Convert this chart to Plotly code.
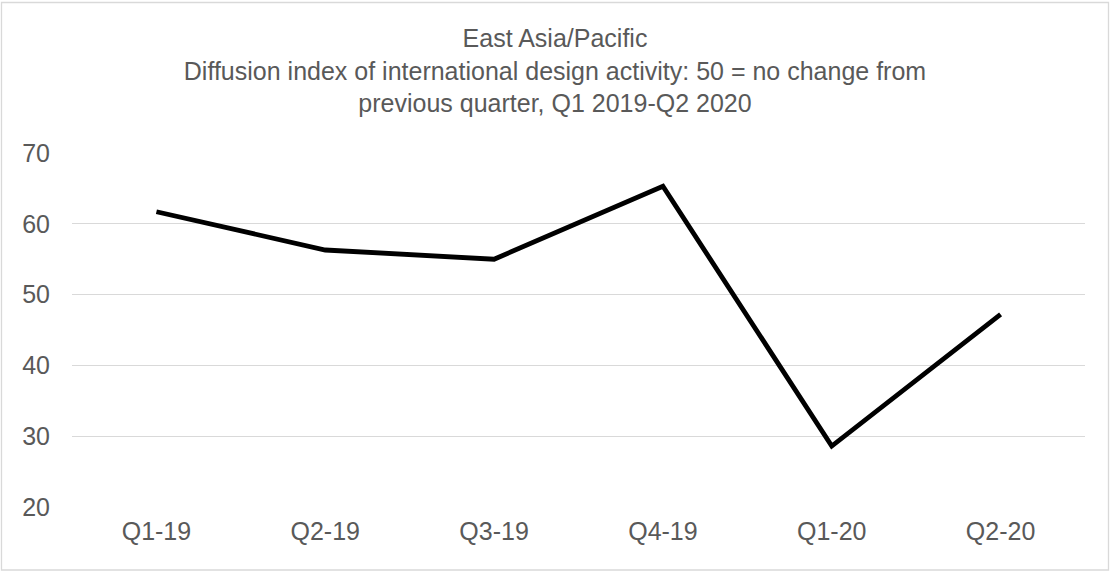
import plotly.graph_objects as go

categories = ["Q1-19", "Q2-19", "Q3-19", "Q4-19", "Q1-20", "Q2-20"]
diffusion_index = [61.7, 56.3, 55.0, 65.3, 28.6, 47.2]
y_ticks = [20, 30, 40, 50, 60, 70]

title_lines = [
    "East Asia/Pacific",
    "Diffusion index of international design activity: 50 = no change from",
    "previous quarter, Q1 2019-Q2 2020",
]

W, H = 1110, 574
ML, MR, MT, MB = 72, 25, 153, 67
pw, ph = W - ML - MR, H - MT - MB

def px_to_paper_x(px):
    return (px - ML) / pw

def px_to_paper_y(py):
    return (H - MB - py) / ph

fig = go.Figure()
fig.add_trace(go.Scatter(
    x=categories, y=diffusion_index, mode="lines",
    line=dict(color="#000000", width=4.8),
    hoverinfo="x+y", showlegend=False,
))

fig.update_layout(
    width=W, height=H,
    margin=dict(l=ML, r=MR, t=MT, b=MB),
    paper_bgcolor="white", plot_bgcolor="white",
    font=dict(family="Liberation Sans, Arial, sans-serif", color="#595959"),
    title=dict(
        text="<br>".join(title_lines),
        x=0.5, xanchor="center", xref="container",
        y=1 - 47 / H, yanchor="middle", yref="container",
        font=dict(size=25, color="#595959"),
    ),
    xaxis=dict(
        type="category", range=[-0.5, 5.5],
        showgrid=False, showline=False, zeroline=False,
        ticks="", tickfont=dict(size=25, color="#595959"),
        ticklabelstandoff=7,
    ),
    yaxis=dict(
        range=[20, 70], tickvals=y_ticks,
        showgrid=True, gridcolor="#d9d9d9", gridwidth=1.3,
        showline=False, zeroline=False,
        ticks="", tickfont=dict(size=25, color="#595959"),
        ticklabelstandoff=21,
    ),
    shapes=[dict(
        type="rect", xref="paper", yref="paper",
        x0=px_to_paper_x(1.5), x1=px_to_paper_x(1108.5),
        y0=px_to_paper_y(570), y1=px_to_paper_y(2.5),
        line=dict(color="#d9d9d9", width=1.3), fillcolor="rgba(0,0,0,0)",
        layer="below",
    )],
)

fig.write_html(
    "out.html",
    config={"displayModeBar": False},
    post_script="document.body.style.margin='0';document.body.style.overflow='hidden';",
)
